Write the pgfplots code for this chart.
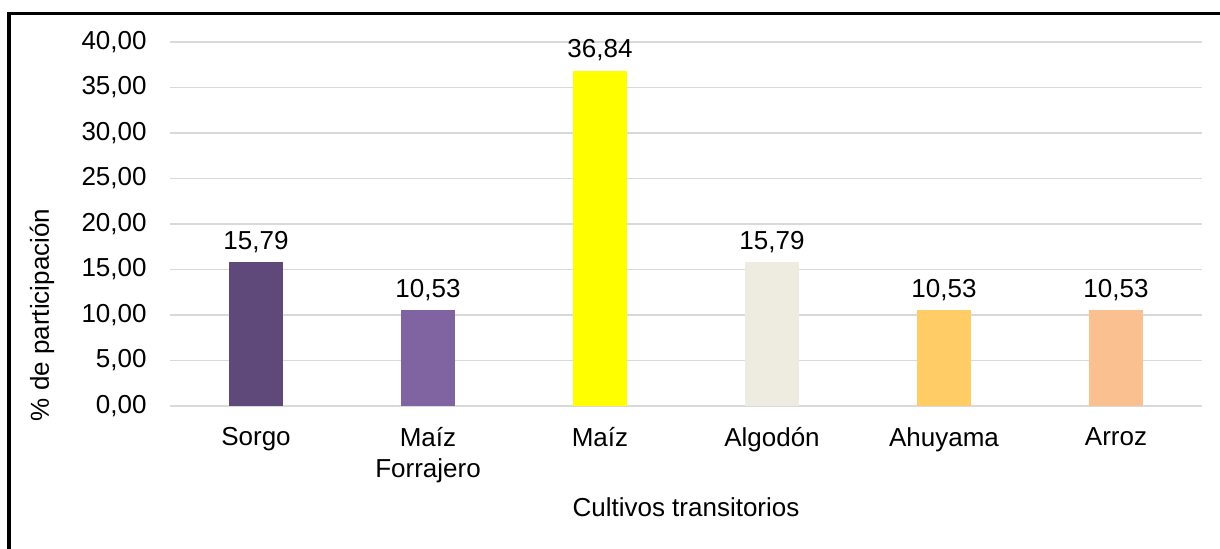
\documentclass[border=0pt]{standalone}
\usepackage{fontspec}
\setmainfont{Liberation Sans}
\usepackage{pgfplots}
\pgfplotsset{compat=1.18}
\definecolor{csorgo}{HTML}{5F497A}
\definecolor{cforraj}{HTML}{8064A2}
\definecolor{cmaiz}{HTML}{FFFF00}
\definecolor{calgodon}{HTML}{EEECE1}
\definecolor{cahuyama}{HTML}{FFCC66}
\definecolor{carroz}{HTML}{FAC090}
\definecolor{gridgray}{HTML}{D9D9D9}
\newcommand{\lblfont}{\fontsize{13}{15.5}\selectfont}

\begin{document}
\begin{tikzpicture}
  \useasboundingbox (0,0) rectangle (610pt,274.5pt);
  % outer frame (only left and top edges are inside the crop)
  \draw[line width=1.6pt] (4.5pt,-3pt) -- (4.5pt,267.6pt) -- (615pt,267.6pt);
  \begin{axis}[
    at={(85pt,71.5pt)}, anchor=south west,
    scale only axis, width=516pt, height=182pt,
    ybar, bar width=27pt, bar shift=0pt,
    xmin=-0.5, xmax=5.5, ymin=0, ymax=40,
    xtick={0,1,2,3,4,5},
    xticklabels={Sorgo, {Maíz\\Forrajero}, Maíz, Algodón, Ahuyama, Arroz},
    ytick={0,5,...,40},
    axis line style={draw=none},
    major tick length=0pt,
    ymajorgrids, grid style={draw=gridgray, line width=0.9pt},
    xticklabel style={anchor=north, inner sep=0pt, yshift=-10.5pt,
      align=center, font=\lblfont},
    yticklabel style={anchor=east, inner sep=0pt, xshift=-11.5pt,
      font=\lblfont,
      /pgf/number format/.cd, fixed, fixed zerofill, precision=2,
      use comma, assume math mode=true},
    xlabel={Cultivos transitorios},
    xlabel style={at={(axis description cs:0.5,-0.2775)}, anchor=center,
      font=\lblfont},
    ylabel={\% de participación},
    ylabel style={at={(axis description cs:-0.124,0.25)}, anchor=center,
      font=\lblfont},
    nodes near coords={\pgfmathprintnumber[fixed, fixed zerofill,
      precision=2, use comma, assume math mode=true]{\pgfplotspointmeta}},
    every node near coord/.append style={anchor=base, inner sep=0pt,
      yshift=6.4pt, font=\lblfont, text=black},
    clip=false,
  ]
  \addplot[fill=csorgo, draw=none] coordinates {(0,15.79)};
  \addplot[fill=cforraj, draw=none] coordinates {(1,10.53)};
  \addplot[fill=cmaiz, draw=none] coordinates {(2,36.84)};
  \addplot[fill=calgodon, draw=none] coordinates {(3,15.79)};
  \addplot[fill=cahuyama, draw=none] coordinates {(4,10.53)};
  \addplot[fill=carroz, draw=none] coordinates {(5,10.53)};
  \end{axis}
\end{tikzpicture}
\end{document}
